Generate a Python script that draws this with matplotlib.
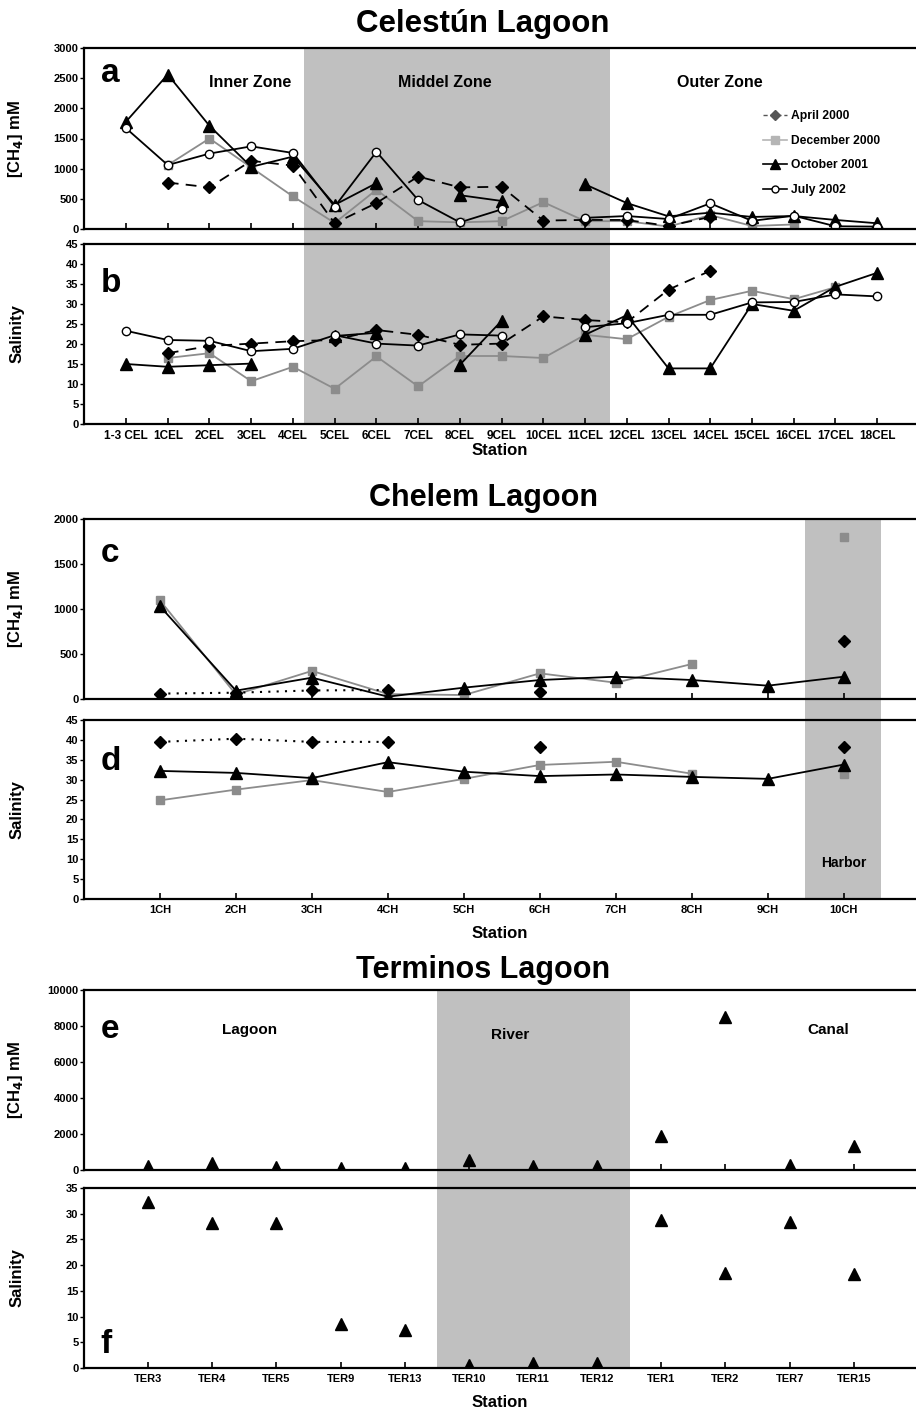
"""Methane and salinity along stations of three Yucatan lagoons (6 stacked panels)."""

import matplotlib
matplotlib.use("Agg")
import numpy as np
import matplotlib.pyplot as plt
from matplotlib.lines import Line2D

nan = np.nan

# ---------------------------------------------------------------------------
# Data
# ---------------------------------------------------------------------------
cel_stations = ["1-3 CEL"] + [f"{i}CEL" for i in range(1, 19)]

cel_ch4_apr00 = [nan, 770, 690, 1130, 1050, 95, 430, 870, 690, 700, 140, 150, 150, 50, 200,
                 nan, nan, nan, nan]
cel_ch4_dec00 = [nan, 1060, 1500, 1020, 540, 100, 650, 130, 110, 130, 445, 130, 130, 40, 230,
                 50, 75, nan, nan]
cel_ch4_oct01 = [1780, 2560, 1710, 1030, 1200, 400, 760, nan, 560, 465, nan, 740, 430, 210, 270,
                 200, 215, 150, 95]
cel_ch4_jul02 = [1670, 1060, 1250, 1370, 1260, 370, 1280, 480, 110, 325, nan, 185, 215, 165, 425,
                 135, 220, 45, 40]

cel_sal_apr00 = [nan, 17.7, 19.5, 20.1, 20.7, 21.0, 23.5, 22.3, 19.8, 20.1, 26.9, 26.0, 25.4, 33.6,
                 38.3, nan, nan, nan, nan]
cel_sal_dec00 = [nan, 16.5, 17.7, 10.7, 14.3, 8.8, 16.9, 9.4, 17.0, 17.0, 16.5, 22.3, 21.2, 26.8,
                 31.0, 33.3, 31.2, 34.2, nan]
cel_sal_oct01 = [15.0, 14.3, 14.7, 15.1, nan, 22.0, 22.8, nan, 14.8, 25.8, nan, 22.3, 27.2, 13.9,
                 13.9, 30.0, 28.3, 34.3, 37.8]
cel_sal_jul02 = [23.3, 21.0, 20.8, 18.2, 18.8, 22.2, 20.1, 19.6, 22.4, 22.1, nan, 24.2, 25.2, 27.3,
                 27.3, 30.4, 30.5, 32.4, 31.9]

ch_stations = [f"{i}CH" for i in range(1, 11)]

ch_ch4_apr00 = [60, 70, 95, 100, nan, 75, nan, nan, nan, 648]
ch_ch4_dec00 = [1095, 50, 312, 55, 44, 285, 181, 389, nan, 1803]
ch_ch4_oct01 = [1030, 93, 237, 26, 126, 211, 248, 211, 148, 248]

ch_sal_apr00 = [39.5, 40.3, 39.5, 39.5, nan, 38.1, nan, nan, nan, 38.1]
ch_sal_dec00 = [24.8, 27.5, 29.9, 26.9, 30.2, 33.7, 34.5, 31.5, nan, 31.3]
ch_sal_oct01 = [32.2, 31.7, 30.4, 34.4, 32.0, 30.9, 31.3, 30.7, 30.2, 33.8]

ter_stations = ["TER3", "TER4", "TER5", "TER9", "TER13", "TER10", "TER11", "TER12",
                "TER1", "TER2", "TER7", "TER15"]
ter_ch4 = [230, 390, 170, 120, 120, 560, 230, 220, 1900, 8480, 290, 1330]
ter_sal = [32.2, 28.1, 28.1, 8.5, 7.3, 0.5, 1.0, 0.9, 28.7, 18.5, 28.3, 18.2]

# ---------------------------------------------------------------------------
# Style
# ---------------------------------------------------------------------------
plt.rcParams.update({
    "font.family": ["Liberation Sans", "DejaVu Sans"],
    "font.weight": "bold",
    "axes.linewidth": 1.6,
})
NARROW = ["Liberation Sans Narrow", "Liberation Sans", "DejaVu Sans"]
SHADE = "#c0c0c0"
GRAY = "#8c8c8c"

W, H = 916, 1411
fig = plt.figure(figsize=(W / 100, H / 100), dpi=100)


def px(l, t, r, b):
    return [l / W, 1 - b / H, (r - l) / W, (b - t) / H]


def shade(top, bottom, xlim, span):
    bg = fig.add_axes(px(84, top, 916, bottom))
    bg.set_xlim(*xlim)
    bg.axvspan(*span, color=SHADE, lw=0)
    bg.axis("off")


def style_axis(ax, xlim, ylim, yticks, xlabels=None, family=None, tsize=8):
    ax.set_facecolor("none")
    ax.set_xlim(*xlim)
    ax.set_ylim(*ylim)
    ax.set_yticks(yticks)
    ax.spines["right"].set_visible(False)
    ax.tick_params(axis="y", direction="out", length=3, width=1, labelsize=tsize, pad=1)
    ax.tick_params(axis="x", direction="in", length=4, width=1.2, labelsize=tsize, pad=4)
    for lab in ax.get_yticklabels():
        lab.set_fontweight("bold")
        if family:
            lab.set_family(family)
    if xlabels is None:
        ax.tick_params(axis="x", labelbottom=False)
    else:
        ax.set_xticklabels(xlabels, fontweight="bold", family=family or "Liberation Sans")


def ylab(ax, text):
    ax.set_ylabel(text, fontsize=12, fontweight="bold")
    ax.yaxis.set_label_coords(-0.071, 0.5)


# =========================================================================
# Celestun
# =========================================================================
xl_cel = (-1.007, 18.93)
x_cel = np.arange(len(cel_stations))
shade(48, 424, xl_cel, (4.27, 11.6))

ax_a = fig.add_axes(px(84, 48, 916, 229))
ax_a.plot(x_cel, cel_ch4_dec00, color=GRAY, lw=1.3, marker="s", ms=6, mfc=GRAY, mec=GRAY)
ax_a.plot(x_cel, cel_ch4_apr00, color="k", lw=1.3, ls=(0, (6, 4)), marker="D", ms=6)
ax_a.plot(x_cel, cel_ch4_oct01, color="k", lw=1.3, marker="^", ms=8)
ax_a.plot(x_cel, cel_ch4_jul02, color="k", lw=1.3, marker="o", ms=6, mfc="white", mec="k")
ax_a.set_xticks(x_cel)
style_axis(ax_a, xl_cel, (0, 3000), range(0, 3001, 500))
ylab(ax_a, r"[CH$_4$] mM")
ax_a.text(0.02, 0.86, "a", transform=ax_a.transAxes, fontsize=24, fontweight="bold", va="center")
for xz, txt in [(250, "Inner Zone"), (445, "Middel Zone"), (720, "Outer Zone")]:
    ax_a.text((xz - 84) / 832, 0.81, txt, transform=ax_a.transAxes, ha="center", va="center",
              fontsize=11.5, fontweight="bold")

handles = [
    Line2D([], [], color="#555555", ls=(0, (3, 2)), marker="D", ms=5, mfc="#555555", mec="#555555", lw=1),
    Line2D([], [], color="#b5b5b5", marker="s", ms=6, mfc="#b5b5b5", mec="#b5b5b5", lw=1.2),
    Line2D([], [], color="k", marker="^", ms=7, lw=1.2),
    Line2D([], [], color="k", marker="o", ms=5, mfc="white", lw=1.2),
]
leg = ax_a.legend(handles, ["April 2000", "December 2000", "October 2001", "July 2002"],
                  loc="upper left", bbox_to_anchor=((757 - 84) / 832, (229 - 104) / 181),
                  frameon=False, handlelength=2.0, handletextpad=0.35, labelspacing=1.05,
                  borderpad=0, prop={"size": 8.7, "weight": "bold"})
for t in leg.get_texts():
    t.set_fontweight("bold")

ax_b = fig.add_axes(px(84, 244, 916, 424))
ax_b.plot(x_cel, cel_sal_dec00, color=GRAY, lw=1.3, marker="s", ms=6, mfc=GRAY, mec=GRAY)
ax_b.plot(x_cel, cel_sal_apr00, color="k", lw=1.3, ls=(0, (6, 4)), marker="D", ms=6)
ax_b.plot(x_cel, cel_sal_oct01, color="k", lw=1.3, marker="^", ms=8)
ax_b.plot(x_cel, cel_sal_jul02, color="k", lw=1.3, marker="o", ms=6, mfc="white", mec="k")
ax_b.set_xticks(x_cel)
style_axis(ax_b, xl_cel, (0, 45), range(0, 46, 5), xlabels=cel_stations)
for lab in ax_b.get_xticklabels():
    lab.set_fontsize(8.5)
ylab(ax_b, "Salinity")
ax_b.set_xlabel("Station", fontsize=12, fontweight="bold", labelpad=1)
ax_b.text(0.02, 0.78, "b", transform=ax_b.transAxes, fontsize=24, fontweight="bold", va="center")

fig.text(483 / W, 1 - 24 / H, "Celestún Lagoon", ha="center", va="center",
         fontsize=22.5, fontweight="bold")

# =========================================================================
# Chelem
# =========================================================================
xl_ch = (0.0, 10.95)
x_ch = np.arange(1, len(ch_stations) + 1)
shade(519, 899, xl_ch, (9.49, 10.49))

ax_c = fig.add_axes(px(84, 519, 916, 699))
ax_c.plot(x_ch, ch_ch4_dec00, color=GRAY, lw=1.3, marker="s", ms=6, mfc=GRAY, mec=GRAY)
ax_c.plot(x_ch, ch_ch4_apr00, color="k", lw=1.5, ls=(0, (1, 3)), marker="D", ms=6)
ax_c.plot(x_ch, ch_ch4_oct01, color="k", lw=1.3, marker="^", ms=8)
ax_c.set_xticks(x_ch)
style_axis(ax_c, xl_ch, (0, 2000), range(0, 2001, 500))
ylab(ax_c, r"[CH$_4$] mM")
ax_c.text(0.02, 0.81, "c", transform=ax_c.transAxes, fontsize=24, fontweight="bold", va="center")

ax_d = fig.add_axes(px(84, 720, 916, 899))
ax_d.plot(x_ch, ch_sal_dec00, color=GRAY, lw=1.3, marker="s", ms=6, mfc=GRAY, mec=GRAY)
ax_d.plot(x_ch, ch_sal_apr00, color="k", lw=1.5, ls=(0, (1, 3)), marker="D", ms=6)
ax_d.plot(x_ch, ch_sal_oct01, color="k", lw=1.3, marker="^", ms=8)
ax_d.set_xticks(x_ch)
style_axis(ax_d, xl_ch, (0, 45), range(0, 46, 5), xlabels=ch_stations, family=NARROW)
ylab(ax_d, "Salinity")
ax_d.set_xlabel("Station", fontsize=12, fontweight="bold", family=NARROW, labelpad=8)
ax_d.text(0.02, 0.77, "d", transform=ax_d.transAxes, fontsize=24, fontweight="bold",
          va="center", family=NARROW)
ax_d.text(10.0, 9.0, "Harbor", ha="center", va="center", fontsize=10, fontweight="bold",
          family=NARROW)

fig.text(483 / W, 1 - 498 / H, "Chelem Lagoon", ha="center", va="center",
         fontsize=22, fontweight="bold")

# =========================================================================
# Terminos
# =========================================================================
xl_ter = (-1.0, 11.97)
x_ter = np.arange(len(ter_stations))
shade(990, 1368, xl_ter, (4.5, 7.51))

ax_e = fig.add_axes(px(84, 990, 916, 1170))
ax_e.plot(x_ter, ter_ch4, ls="none", color="k", marker="^", ms=8)
ax_e.set_xticks(x_ter)
style_axis(ax_e, xl_ter, (0, 10000), range(0, 10001, 2000), family=NARROW)
ylab(ax_e, r"[CH$_4$] mM")
ax_e.text(0.02, 0.78, "e", transform=ax_e.transAxes, fontsize=24, fontweight="bold",
          va="center", family=NARROW)
for xz, yz, txt in [(250, 1030, "Lagoon"), (510, 1035, "River"), (828, 1030, "Canal")]:
    ax_e.text((xz - 84) / 832, (1170 - yz) / 180, txt, transform=ax_e.transAxes, ha="center",
              va="center", fontsize=11, fontweight="bold", family=NARROW)

ax_f = fig.add_axes(px(84, 1188, 916, 1368))
ax_f.plot(x_ter, ter_sal, ls="none", color="k", marker="^", ms=8)
ax_f.set_xticks(x_ter)
style_axis(ax_f, xl_ter, (0, 35), range(0, 36, 5), xlabels=ter_stations, family=NARROW)
ylab(ax_f, "Salinity")
ax_f.set_xlabel("Station", fontsize=12, fontweight="bold", family=NARROW, labelpad=8)
ax_f.text(0.02, 0.13, "f", transform=ax_f.transAxes, fontsize=24, fontweight="bold",
          va="center", family=NARROW)

fig.text(483 / W, 1 - 970 / H, "Terminos Lagoon", ha="center", va="center",
         fontsize=22, fontweight="bold", family=NARROW)

fig.savefig("out.png", dpi=100, facecolor="white")
